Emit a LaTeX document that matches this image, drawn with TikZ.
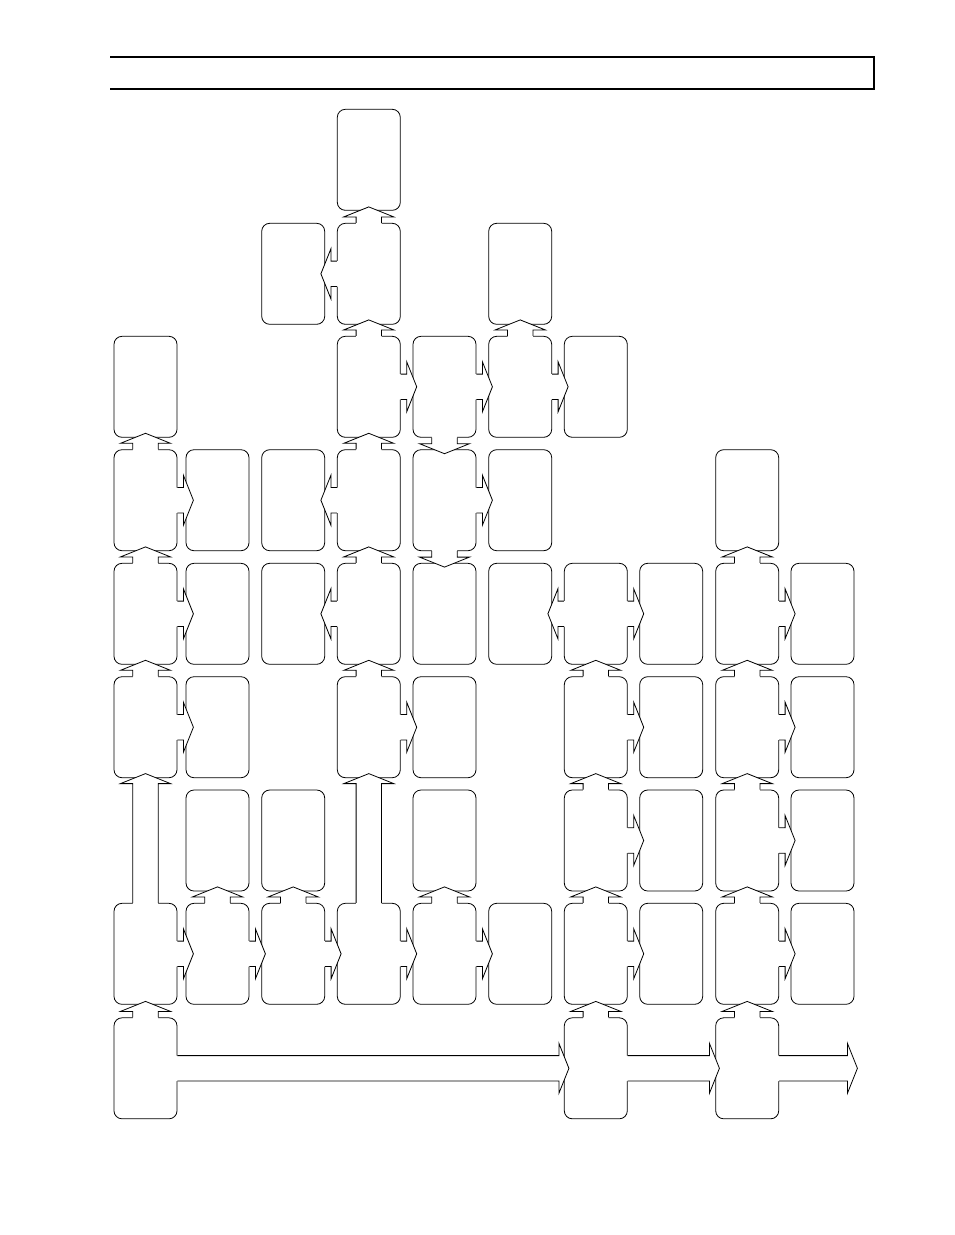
\documentclass[tikz,border=0pt]{standalone}
\usetikzlibrary{calc}
\tikzset{
  bx/.style={draw, rounded corners=8pt, minimum width=63pt, minimum height=101pt,
    inner sep=0pt, line width=0.8pt, fill=white},
  arrline/.style={line width=0.8pt, line join=miter},
  header/.style={line width=1.7pt, line join=miter}
}
% block arrow: #1 source anchor, #2 direction angle, #3 length (tip distance)
\newcommand\blkarrow[3]{%
  \begin{scope}[shift={(#1)}, rotate=#2, x=1pt, y=1pt]
    \fill[white] (-1.5,12.7) -- (#3-10,12.7) -- (#3-10,25) -- (#3,0) --
      (#3-10,-25) -- (#3-10,-12.7) -- (-1.5,-12.7) -- cycle;
    \draw[arrline] (0,12.7) -- (#3-10,12.7) -- (#3-10,25) -- (#3,0) --
      (#3-10,-25) -- (#3-10,-12.7) -- (0,-12.7);
  \end{scope}}
\begin{document}
\begin{tikzpicture}[x=1pt, y=-1pt]
\useasboundingbox (0,0) rectangle (954,1235);
\fill[white] (0,0) rectangle (954,1235);
% header
\draw[header] (110,56.7) -- (873.7,56.7) -- (873.7,88.7) -- (110,88.7);
\def\colx{{145.5,217.5,293.2,368.8,444.5,520.2,595.8,671.2,747.2,822.5}}
\def\rowy{{159.8,273.8,386.8,500.2,613.8,727.2,840.5,953.8,1068.3}}
\foreach \r/\c in {0/3,
  1/2,1/3,1/5,
  2/0,2/3,2/4,2/5,2/6,
  3/0,3/1,3/2,3/3,3/4,3/5,3/8,
  4/0,4/1,4/2,4/3,4/4,4/5,4/6,4/7,4/8,4/9,
  5/0,5/1,5/3,5/4,5/6,5/7,5/8,5/9,
  6/1,6/2,6/4,6/6,6/7,6/8,6/9,
  7/0,7/1,7/2,7/3,7/4,7/5,7/6,7/7,7/8,7/9,
  8/0,8/6,8/8}{
  \pgfmathsetmacro\xx{\colx[\c]}
  \pgfmathsetmacro\yy{\rowy[\r]}
  \node[bx] (b\r\c) at (\xx,\yy) {};
}
\coordinate (endpt) at (857,1068.3);
% up arrows
\foreach \s in {13,23,25,30,33,40,43,48,50,53,56,58,66,68,71,72,74,76,78,80,86,88}
  {\blkarrow{b\s.north}{90}{16}}
% down arrows
\foreach \s in {24,34}
  {\blkarrow{b\s.south}{-90}{16}}
% right arrows
\foreach \s in {23,24,25,30,34,40,46,48,50,53,56,58,66,68,70,71,72,73,74,76,78}
  {\blkarrow{b\s.east}{0}{16}}
% left arrows
\foreach \s in {13,33,43,46}
  {\blkarrow{b\s.west}{180}{16}}
% long arrows
\blkarrow{b70.north}{90}{129.3}
\blkarrow{b73.north}{90}{129.3}
\blkarrow{b80.east}{0}{391.5}
\blkarrow{b86.east}{0}{91.7}
\blkarrow{b88.east}{0}{78.3}
\end{tikzpicture}
\end{document}
